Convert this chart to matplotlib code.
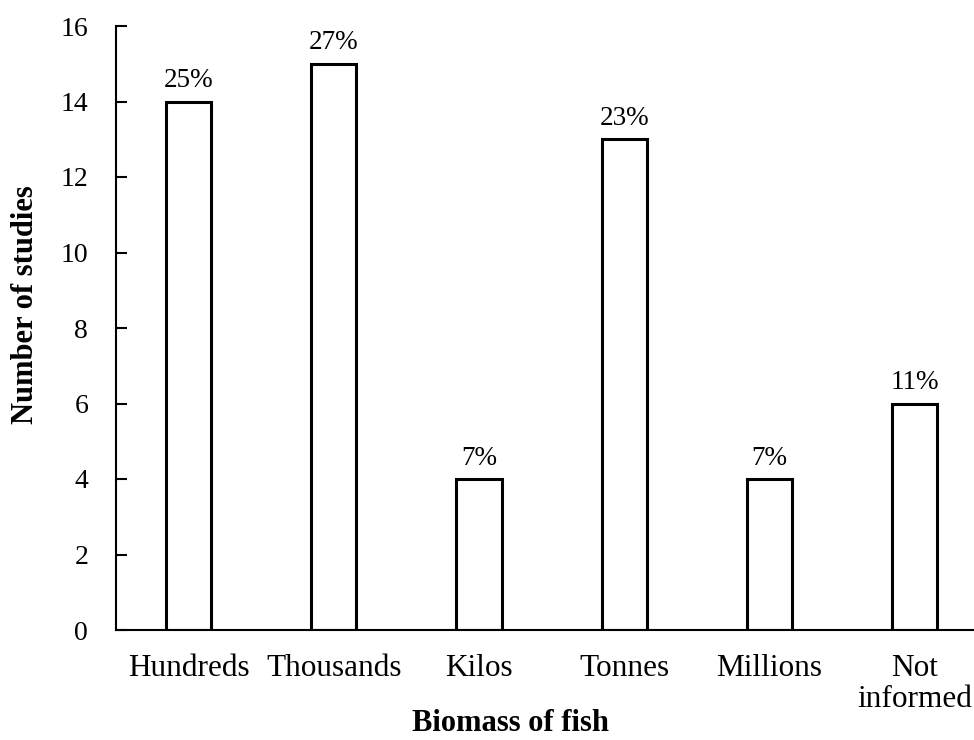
import matplotlib
matplotlib.use("Agg")
import matplotlib.pyplot as plt

categories = ["Hundreds", "Thousands", "Kilos", "Tonnes", "Millions", "Not\ninformed"]
values = [14, 15, 4, 13, 4, 6]
pct_labels = ["25%", "27%", "7%", "23%", "7%", "11%"]
yticks = [0, 2, 4, 6, 8, 10, 12, 14, 16]

plt.rcParams['font.family'] = ['Liberation Serif', 'DejaVu Serif']

fig = plt.figure(figsize=(9.74, 7.40), dpi=100)
ax = fig.add_axes([116/974, 110/740, 858/974, 604/740])

x = list(range(len(categories)))
bars = ax.bar(x, values, width=0.31, facecolor='white', edgecolor='black', linewidth=2.2)

for xi, v, lab in zip(x, values, pct_labels):
    ax.annotate(lab, (xi, v), xytext=(0, 6), textcoords='offset points',
                ha='center', va='bottom', fontsize=19.5)

ax.set_xlim(-0.5, 5.409)
ax.set_ylim(0, 16)
ax.set_yticks(yticks)
ax.set_xticks(x)
ax.set_xticklabels(categories, fontsize=22.5, linespacing=1.1)
ax.tick_params(axis='x', length=0, pad=17)
ax.tick_params(axis='y', direction='in', length=8, width=1.5, labelsize=20, pad=20)

for s in ['top', 'right']:
    ax.spines[s].set_visible(False)
for s in ['left', 'bottom']:
    ax.spines[s].set_linewidth(1.5)

ax.set_ylabel("Number of studies", fontsize=22, fontweight='bold', va='center')
ax.yaxis.set_label_coords(-0.105, 0.538)
ax.set_xlabel("Biomass of fish", fontsize=22, fontweight='bold', va='center')
ax.xaxis.set_label_coords(0.46, -0.155)

fig.savefig("out.png", dpi=100)
